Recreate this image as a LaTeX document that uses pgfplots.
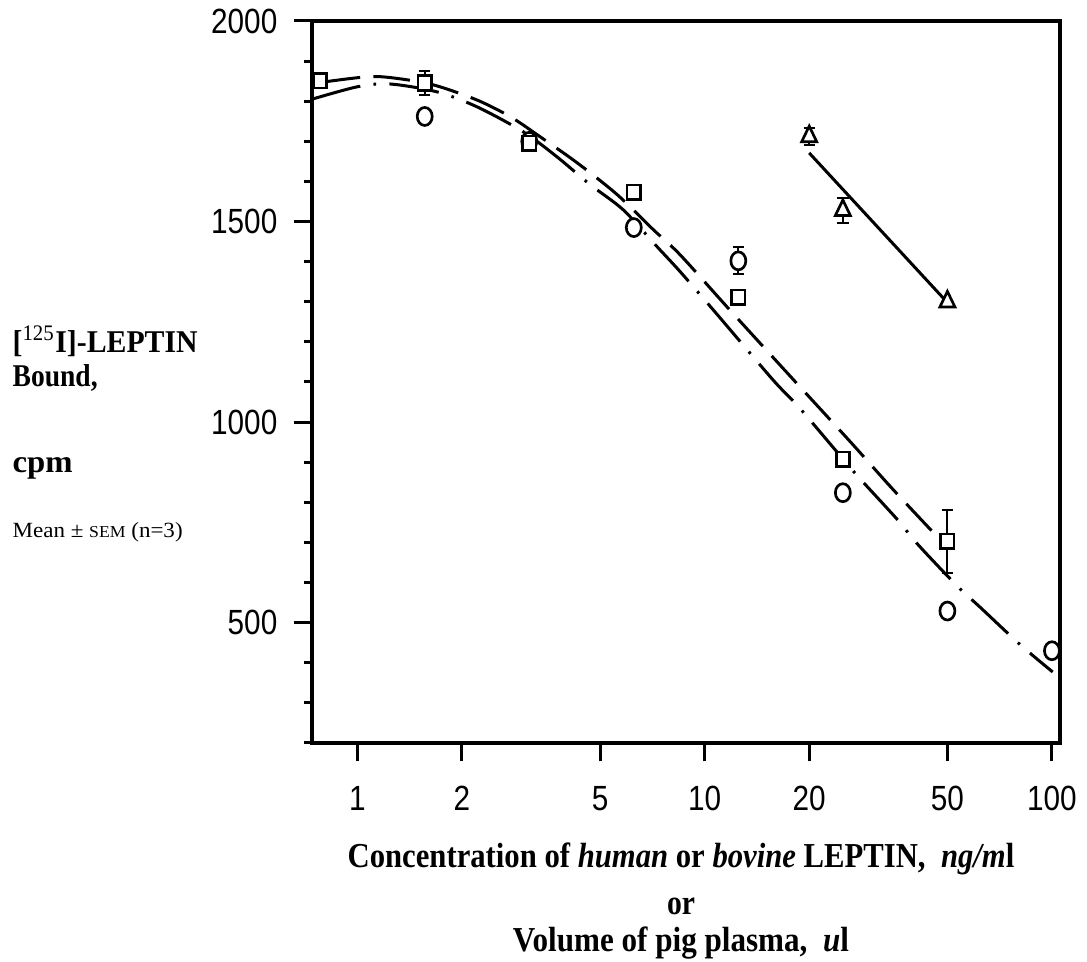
\documentclass[border=0pt]{standalone}
\usepackage{pgfplots}
\pgfplotsset{compat=1.18}
\usepackage{fontspec}
\setmainfont{Liberation Serif}
\setsansfont{Liberation Sans}
\newcommand\tl[1]{\scalebox{0.85}[1]{\sffamily\fontsize{10.5}{12}\selectfont #1}}
\begin{document}
\begin{tikzpicture}
\path[use as bounding box] (-93.6pt,-65.7pt) rectangle (232.5pt,222.9pt);
\begin{axis}[
  at={(0,0)}, anchor=south west,
  scale only axis, width=224.4pt, height=216.6pt,
  xmode=log, xmin=0.74, xmax=105.5, ymin=200, ymax=2000,
  xtick={1,2,5,10,20,50,100},
  xticklabels={\tl{1},\tl{2},\tl{5},\tl{10},\tl{20},\tl{50},\tl{100}},
  xminorticks=false,
  ytick={500,1000,1500,2000},
  yticklabels={\tl{500},\tl{1000},\tl{1500},\tl{2000}},
  minor ytick={200,300,400,600,700,800,900,1100,1200,1300,1400,1600,1700,1800,1900},
  tick align=outside, tick pos=left,
  major tick length=5.5pt, minor tick length=2.4pt,
  major tick style={black, line width=0.9pt},
  minor tick style={black, line width=0.9pt},
  axis line style={line width=1.2pt},
  xticklabel style={anchor=base, inner sep=0pt, yshift=-14.6pt},
  yticklabel style={anchor=east, inner sep=0pt, xshift=-4.7pt},
  ebar/.style={error bars/.cd, y dir=both, y explicit,
    error bar style={line width=0.6pt, black},
    error mark options={rotate=90, line width=0.6pt, mark size=1.7pt, black}},
]
% fitted curve, squares (human leptin)
\addplot[black, line width=0.9pt, dash pattern=on 11pt off 4pt, smooth] coordinates {
(0.80,1848)(1.07,1861)(1.27,1858)(1.65,1841)(2.21,1803)(2.76,1761)(3.30,1716)
(4.30,1646)(5.60,1567)(7.11,1480)(8.50,1417)(11.8,1280)(18.0,1106)(26.2,952)
(34.2,840)(44.6,733)(48,705)};
% fitted curve, circles (bovine leptin)
\addplot[black, line width=0.9pt, dash pattern=on 15pt off 4pt on 0.8pt off 4pt, smooth] coordinates {
(0.74,1805)(1.0,1836)(1.24,1843)(1.70,1823)(2.21,1786)(3.0,1724)(3.76,1661)
(4.68,1592)(5.83,1529)(7.30,1437)(8.5,1375)(10.7,1275)(15.7,1106)(18.6,1039)
(23.7,932)(27.6,865)(35.8,758)(41.1,695)(53.4,591)(62.2,538)(80.8,446)(100.5,377)};
% pig plasma line
\addplot[black, line width=0.9pt] coordinates {(20,1671)(50,1298)};
% circles
\addplot[only marks, mark=*, mark size=2.25pt, mark options={yscale=1.2, fill=white, draw=black, line width=0.8pt}] coordinates {
(1.5625,1762)(3.125,1700)(6.25,1485)(25,824)(50,529)(100,430)};
\addplot[only marks, mark=*, mark size=2.25pt, mark options={yscale=1.2, fill=white, draw=black, line width=0.8pt}, ebar] coordinates {
(12.5,1402) +- (0,34)};
% squares
\addplot[only marks, mark=square*, mark size=2pt, mark options={yscale=1.1, fill=white, draw=black, line width=0.8pt}] coordinates {
(0.78125,1851)(6.25,1573)(12.5,1311)(25,907)};
\addplot[only marks, mark=square*, mark size=2pt, mark options={yscale=1.1, fill=white, draw=black, line width=0.8pt}, ebar] coordinates {
(1.5625,1845) +- (0,30)
(3.125,1695) +- (0,12)
(50,703) +- (0,78)};
% triangles
\addplot[only marks, mark=triangle*, mark size=2.6pt, mark options={yscale=1.2, fill=white, draw=black, line width=0.8pt}] coordinates {
(50,1300)};
\addplot[only marks, mark=triangle*, mark size=2.6pt, mark options={yscale=1.2, fill=white, draw=black, line width=0.8pt}, ebar] coordinates {
(20,1712) +- (0,22)
(25,1528) +- (0,31)};
\end{axis}
\node[anchor=base, inner sep=0] at (110.7pt,-37.2pt) {\resizebox{200pt}{\height}{\bfseries\fontsize{10.5}{12}\selectfont Concentration of \textit{human} or \textit{bovine} LEPTIN,\ \ \textit{ng/m}l}};
\node[anchor=base, inner sep=0] at (110.7pt,-51.6pt) {\resizebox{8.4pt}{\height}{\bfseries\fontsize{10.5}{12}\selectfont or}};
\node[anchor=base, inner sep=0] at (110.7pt,-62.4pt) {\resizebox{100.8pt}{\height}{\bfseries\fontsize{10.5}{12}\selectfont Volume of pig plasma,\ \ \textit{u}l}};
\node[anchor=base west, inner sep=0] at (-90pt,117pt) {\resizebox{55.5pt}{\height}{\bfseries\fontsize{9.5}{12}\selectfont [\textsuperscript{\mdseries 125}I]-LEPTIN}};
\node[anchor=base west, inner sep=0] at (-90pt,106.8pt) {\resizebox{25.5pt}{\height}{\bfseries\fontsize{9.5}{12}\selectfont Bound,}};
\node[anchor=base west, inner sep=0] at (-90pt,81pt) {\resizebox{18pt}{\height}{\bfseries\fontsize{9.5}{12}\selectfont cpm}};
\node[anchor=base west, inner sep=0] at (-90pt,61.5pt) {\resizebox{51pt}{\height}{\fontsize{6.5}{8}\selectfont Mean ± {\fontsize{5}{6}\selectfont SEM} (n=3)}};
\end{tikzpicture}
\end{document}
